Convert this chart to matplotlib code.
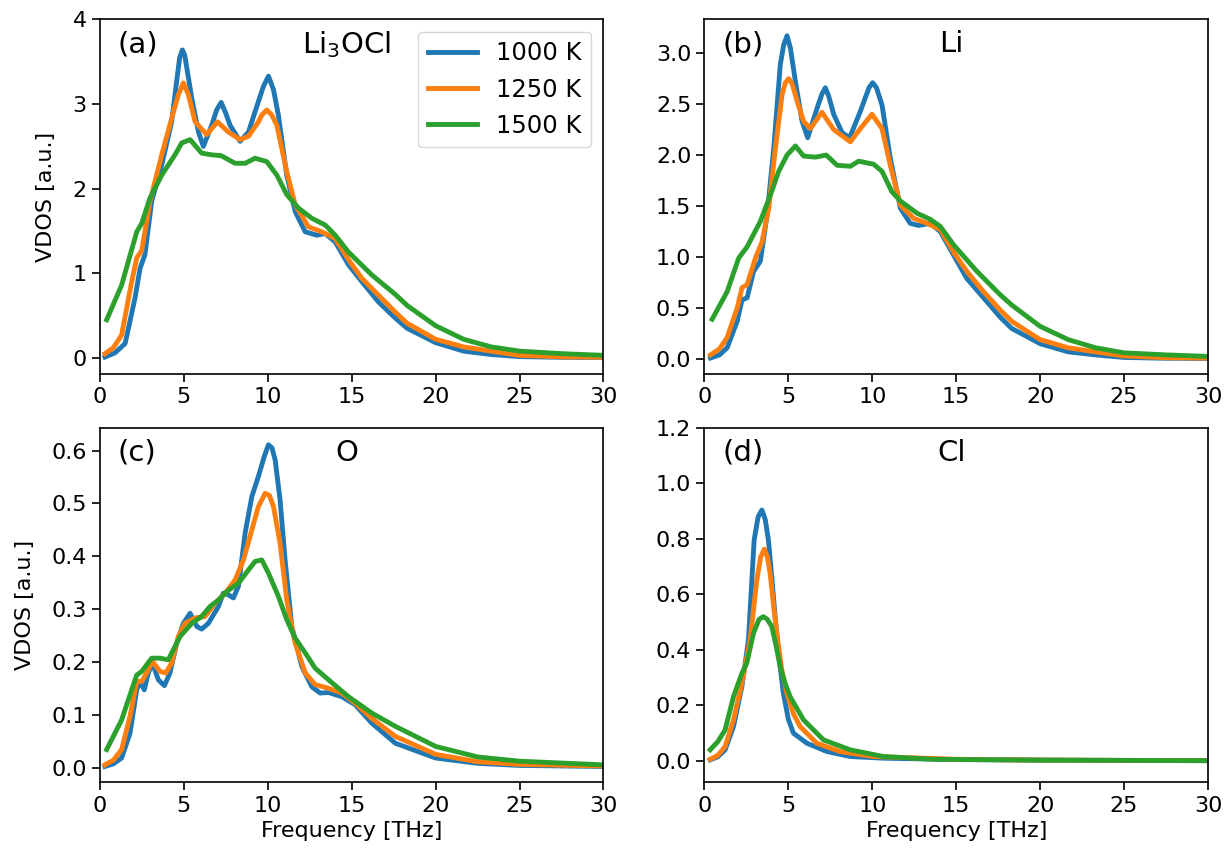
import matplotlib
matplotlib.use('Agg')
import matplotlib.pyplot as plt

temps = ["1000 K", "1250 K", "1500 K"]
colors = ["C0", "C1", "C2"]

# (a) total VDOS, Li3OCl
a_f_1000 = [0.3, 0.9, 1.5, 2.09, 2.39, 2.68, 3.08, 3.68, 4.27, 4.57, 4.75, 4.91, 5.05, 5.18, 5.47, 5.87,
            6.16, 6.66, 6.95, 7.22, 7.5, 7.75, 8.35, 8.85, 9.44, 9.74, 10.04, 10.34, 10.63, 11.13,
            11.63, 12.23, 12.92, 13.42, 14.02, 14.81, 15.61, 16.6, 17.6, 18.3, 20.0, 21.67, 23.3,
            25.0, 27.5, 30.0]
a_v_1000 = [0.01, 0.06, 0.17, 0.71, 1.06, 1.22, 1.85, 2.28, 2.79, 3.27, 3.55, 3.64, 3.58, 3.42, 3.07,
            2.67, 2.50, 2.75, 2.93, 3.02, 2.89, 2.75, 2.56, 2.67, 3.03, 3.21, 3.33, 3.17, 2.87, 2.16,
            1.73, 1.49, 1.45, 1.47, 1.37, 1.10, 0.90, 0.66, 0.47, 0.35, 0.18, 0.08, 0.04,
            0.015, 0.007, 0.005]
a_f_1250 = [0.3, 0.8, 1.29, 1.89, 2.19, 2.49, 2.98, 3.68, 4.27, 4.67, 4.97, 5.27, 5.67, 6.36, 7.0,
            7.65, 8.35, 8.85, 9.44, 9.64, 9.94, 10.24, 10.54, 11.13, 11.63, 12.42, 13.22, 14.02,
            14.81, 15.61, 16.6, 17.6, 18.3, 20.0, 21.67, 23.3, 25.0, 27.5, 30.0]
a_v_1250 = [0.05, 0.12, 0.27, 0.90, 1.18, 1.27, 1.85, 2.40, 2.83, 3.11, 3.25, 3.11, 2.79, 2.64, 2.79,
            2.67, 2.58, 2.62, 2.79, 2.87, 2.93, 2.87, 2.75, 2.20, 1.81, 1.55, 1.49, 1.41,
            1.16, 0.94, 0.74, 0.54, 0.41, 0.22, 0.13, 0.08, 0.03, 0.012, 0.008]
a_f_1500 = [0.4, 1.29, 2.19, 2.49, 2.98, 3.68, 4.47, 4.87, 5.37, 6.06, 6.66, 7.22, 8.05, 8.65, 9.24,
            9.94, 10.54, 11.13, 11.83, 12.62, 13.42, 14.02, 14.81, 16.2, 17.6, 18.3, 20.0, 21.67,
            23.3, 25.0, 27.5, 30.0]
a_v_1500 = [0.45, 0.86, 1.49, 1.59, 1.89, 2.16, 2.40, 2.54, 2.58, 2.42, 2.40, 2.39, 2.30, 2.30, 2.36,
            2.32, 2.16, 1.93, 1.77, 1.65, 1.57, 1.45, 1.25, 0.98, 0.75, 0.62, 0.38, 0.22,
            0.13, 0.08, 0.05, 0.03]

# (b) Li partial
b_f_1000 = [0.36, 0.9, 1.35, 1.95, 2.24, 2.54, 2.93, 3.33, 3.73, 4.13, 4.52, 4.72, 4.92, 5.12, 5.42,
            5.82, 6.15, 6.71, 7.0, 7.2, 7.4, 7.7, 8.2, 8.65, 9.29, 9.8, 10.02, 10.25, 10.58, 11.07,
            11.67, 12.26, 12.76, 13.45, 14.05, 14.84, 15.63, 16.63, 17.62, 18.3, 20.0, 21.67,
            23.3, 25.0, 27.5, 30.0]
b_v_1000 = [0.01, 0.04, 0.11, 0.37, 0.58, 0.60, 0.86, 0.96, 1.41, 2.07, 2.89, 3.08, 3.17, 3.05, 2.72,
            2.33, 2.17, 2.46, 2.60, 2.66, 2.58, 2.40, 2.22, 2.17, 2.43, 2.66, 2.71, 2.66, 2.49, 1.97,
            1.48, 1.33, 1.31, 1.33, 1.25, 1.02, 0.79, 0.60, 0.41, 0.30, 0.15, 0.07,
            0.04, 0.015, 0.007, 0.005]
b_f_1250 = [0.36, 0.9, 1.35, 1.95, 2.24, 2.54, 3.04, 3.43, 3.83, 4.23, 4.62, 4.82, 5.02, 5.22, 5.52,
            5.91, 6.31, 7.0, 7.7, 8.69, 9.29, 9.98, 10.58, 11.07, 11.67, 12.46, 13.26, 14.05, 14.84,
            15.63, 16.63, 17.62, 18.3, 20.0, 21.67, 23.3, 25.0, 27.5, 30.0]
b_v_1250 = [0.04, 0.10, 0.21, 0.50, 0.70, 0.73, 0.99, 1.15, 1.48, 2.07, 2.59, 2.71, 2.75, 2.70, 2.53,
            2.33, 2.26, 2.42, 2.25, 2.13, 2.26, 2.40, 2.26, 1.90, 1.51, 1.38, 1.33, 1.27, 1.05,
            0.86, 0.66, 0.48, 0.37, 0.19, 0.11, 0.07, 0.03, 0.012, 0.008]
b_f_1500 = [0.46, 1.35, 2.04, 2.54, 3.33, 3.93, 4.42, 4.92, 5.42, 5.91, 6.61, 7.26, 7.9, 8.69, 9.19,
            10.08, 10.58, 11.17, 11.67, 12.66, 13.45, 14.05, 14.84, 16.23, 17.62, 18.3, 20.0,
            21.67, 23.3, 25.0, 27.5, 30.0]
b_v_1500 = [0.39, 0.66, 0.99, 1.10, 1.35, 1.61, 1.84, 2.00, 2.09, 1.99, 1.98, 2.00, 1.90, 1.89, 1.94,
            1.91, 1.84, 1.64, 1.55, 1.43, 1.37, 1.30, 1.12, 0.86, 0.63, 0.53, 0.32,
            0.19, 0.11, 0.06, 0.04, 0.025]

# (c) O partial
c_f_1000 = [0.3, 0.8, 1.29, 1.79, 2.19, 2.39, 2.64, 2.88, 3.12, 3.48, 3.84, 4.17, 4.57, 4.97, 5.37,
            5.77, 6.06, 6.46, 7.06, 7.35, 7.65, 7.95, 8.25, 8.65, 9.05, 9.44, 9.8, 10.04, 10.25,
            10.44, 10.73, 11.03, 11.43, 12.03, 12.62, 13.12, 13.62, 14.41, 15.2, 16.2, 17.6, 20.0,
            22.5, 25.0, 30.0]
c_v_1000 = [0.002, 0.007, 0.018, 0.065, 0.147, 0.163, 0.147, 0.179, 0.198, 0.166, 0.155, 0.179, 0.235,
            0.273, 0.292, 0.267, 0.262, 0.273, 0.305, 0.330, 0.327, 0.321, 0.343, 0.444, 0.513,
            0.551, 0.59, 0.611, 0.605, 0.582, 0.507, 0.393, 0.267, 0.191, 0.153, 0.141, 0.142,
            0.134, 0.119, 0.084, 0.046, 0.018, 0.008, 0.004, 0.002]
c_f_1250 = [0.3, 0.8, 1.29, 1.79, 2.19, 2.49, 2.78, 3.12, 3.58, 3.92, 4.27, 4.67, 5.07, 5.67, 6.26,
            6.86, 7.46, 8.05, 8.55, 9.05, 9.44, 9.84, 10.1, 10.34, 10.73, 11.13, 11.63, 12.23, 12.82,
            13.62, 14.41, 15.2, 16.2, 17.6, 20.0, 22.5, 25.0, 30.0]
c_v_1250 = [0.005, 0.014, 0.034, 0.097, 0.163, 0.163, 0.179, 0.201, 0.182, 0.179, 0.198, 0.248,
            0.273, 0.283, 0.286, 0.311, 0.330, 0.355, 0.393, 0.450, 0.494, 0.519, 0.515, 0.494,
            0.425, 0.317, 0.235, 0.179, 0.157, 0.150, 0.141, 0.122, 0.093, 0.059, 0.025, 0.011,
            0.006, 0.003]
c_f_1500 = [0.4, 1.29, 1.89, 2.19, 2.49, 3.08, 3.58, 4.07, 4.77, 5.47, 6.06, 6.56, 7.06, 7.55, 8.25,
            8.85, 9.24, 9.64, 10.04, 10.63, 11.13, 11.63, 12.23, 12.82, 13.62, 14.81, 16.2, 17.6,
            20.0, 22.5, 25.0, 30.0]
c_v_1500 = [0.034, 0.090, 0.147, 0.175, 0.182, 0.207, 0.207, 0.204, 0.248, 0.273, 0.286, 0.305, 0.317,
            0.333, 0.349, 0.374, 0.390, 0.393, 0.368, 0.324, 0.280, 0.245, 0.217, 0.188, 0.166,
            0.134, 0.103, 0.078, 0.040, 0.020, 0.012, 0.005]

# (d) Cl partial
d_f_1000 = [0.34, 0.8, 1.23, 1.73, 2.23, 2.62, 2.96, 3.2, 3.42, 3.62, 3.81, 4.0, 4.21, 4.45, 4.7, 5.0,
            5.3, 6.1, 7.29, 8.68, 10.66, 15.0, 20.0, 30.0]
d_v_1000 = [0.004, 0.015, 0.04, 0.124, 0.268, 0.436, 0.796, 0.88, 0.904, 0.87, 0.796, 0.67, 0.520,
            0.37, 0.244, 0.15, 0.100, 0.064, 0.034, 0.016, 0.01, 0.005, 0.003, 0.001]
d_f_1250 = [0.34, 0.8, 1.23, 1.73, 2.23, 2.72, 3.12, 3.35, 3.56, 3.75, 3.91, 4.1, 4.31, 4.6, 4.91,
            5.3, 5.7, 6.69, 8.08, 10.07, 15.0, 20.0, 30.0]
d_v_1250 = [0.006, 0.02, 0.052, 0.148, 0.28, 0.436, 0.652, 0.735, 0.763, 0.735, 0.676, 0.57, 0.46,
            0.33, 0.244, 0.17, 0.124, 0.064, 0.034, 0.016, 0.006, 0.003, 0.001]
d_f_1500 = [0.34, 0.8, 1.23, 1.73, 2.23, 2.52, 2.92, 3.25, 3.51, 3.75, 4.01, 4.25, 4.51, 4.8, 5.1, 5.9,
            7.09, 8.68, 10.66, 13.64, 20.0, 30.0]
d_v_1500 = [0.04, 0.07, 0.112, 0.232, 0.316, 0.352, 0.46, 0.51, 0.52, 0.51, 0.484, 0.42, 0.34, 0.28,
            0.232, 0.148, 0.076, 0.04, 0.016, 0.006, 0.003, 0.001]

panels = [
    ("(a)", r"Li$_3$OCl", [(a_f_1000, a_v_1000), (a_f_1250, a_v_1250), (a_f_1500, a_v_1500)],
     (-0.19, 4.0), [0, 1, 2, 3, 4]),
    ("(b)", "Li", [(b_f_1000, b_v_1000), (b_f_1250, b_v_1250), (b_f_1500, b_v_1500)],
     (-0.147, 3.33), [0.0, 0.5, 1.0, 1.5, 2.0, 2.5, 3.0]),
    ("(c)", "O", [(c_f_1000, c_v_1000), (c_f_1250, c_v_1250), (c_f_1500, c_v_1500)],
     (-0.028, 0.643), [0.0, 0.1, 0.2, 0.3, 0.4, 0.5, 0.6]),
    ("(d)", "Cl", [(d_f_1000, d_v_1000), (d_f_1250, d_v_1250), (d_f_1500, d_v_1500)],
     (-0.077, 1.2), [0.0, 0.2, 0.4, 0.6, 0.8, 1.0, 1.2]),
]

fig, axes = plt.subplots(2, 2, figsize=(12.25, 8.58), dpi=100)
fig.subplots_adjust(left=0.0816, right=0.9861, bottom=0.0882, top=0.9773, wspace=0.2006, hspace=0.152)

for i, (ax, (tag, name, curves, ylim, yt)) in enumerate(zip(axes.flat, panels)):
    for (f, v), lab, c in zip(curves, temps, colors):
        ax.plot(f, v, color=c, lw=3.5, label=lab, solid_joinstyle="round")
    ax.set_xlim(0, 30)
    ax.set_ylim(*ylim)
    ax.set_xticks([0, 5, 10, 15, 20, 25, 30])
    ax.set_yticks(yt)
    ax.tick_params(labelsize=16, width=1.2, length=6)
    for sp in ax.spines.values():
        sp.set_linewidth(1.2)
    ax.text(0.035, 0.93, tag, transform=ax.transAxes, fontsize=21, ha="left", va="center")
    ax.text(0.49, 0.93, name, transform=ax.transAxes, fontsize=21, ha="center", va="center")
    if i % 2 == 0:
        ax.set_ylabel("VDOS [a.u.]", fontsize=16, labelpad=12)
    if i >= 2:
        ax.set_xlabel("Frequency [THz]", fontsize=16)

axes[0, 0].legend(loc="upper right", fontsize=17.5, handlelength=2.0, borderaxespad=0.5)

plt.savefig("out.png", dpi=100)
plt.close()
